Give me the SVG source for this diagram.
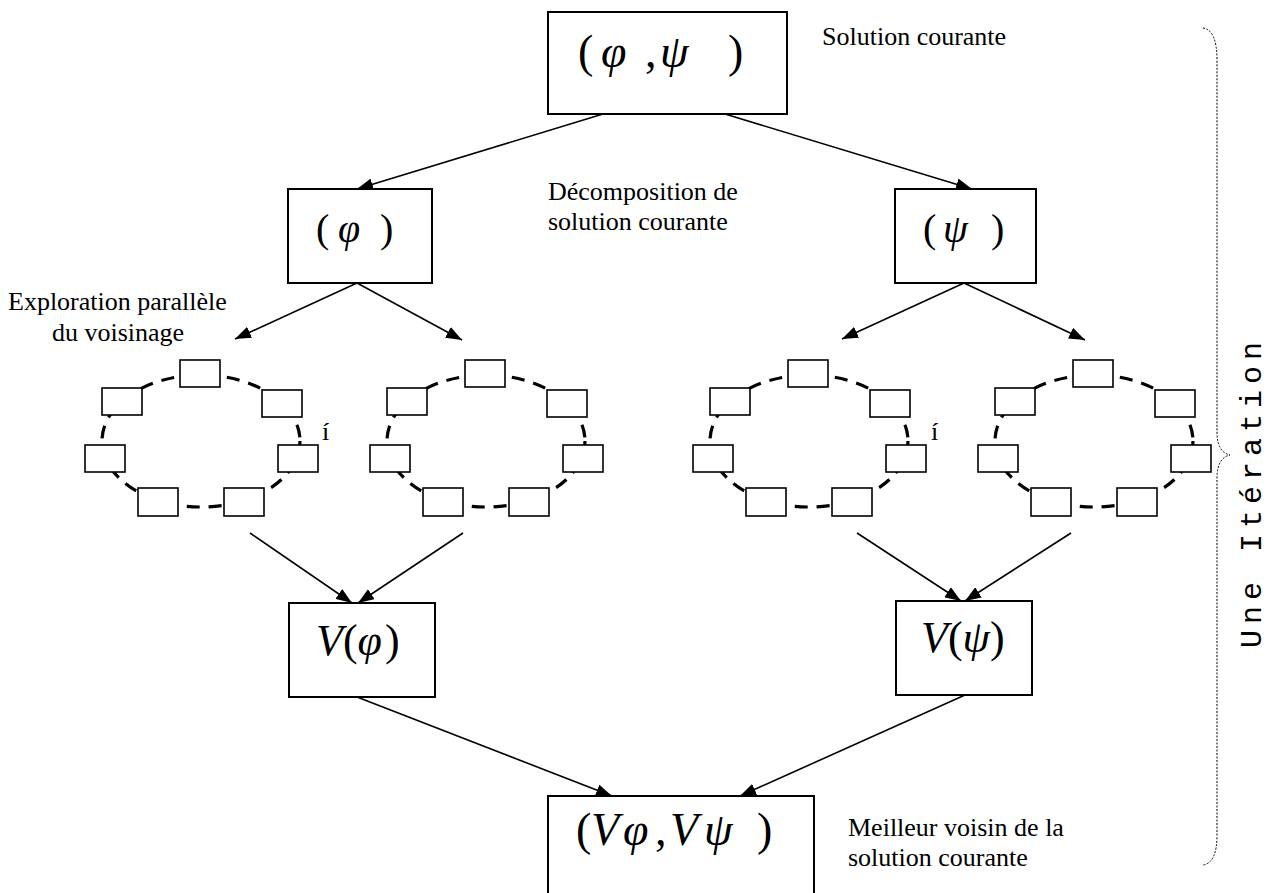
<svg xmlns="http://www.w3.org/2000/svg" width="1268" height="893" viewBox="0 0 1268 893">
  <style>
    .box { fill: #fff; stroke: #000; stroke-width: 2; }
    .cell { fill: #fff; stroke: #000; stroke-width: 1.6; }
    .ring { fill: none; stroke: #000; stroke-width: 3.2; stroke-dasharray: 13 9; }
    .edge { fill: none; stroke: #000; stroke-width: 1.6; marker-end: url(#ah); }
    .lbl { font-family: "Liberation Serif", "Times New Roman", serif; font-size: 26px; fill: #000; }
    .math { font-family: "Liberation Serif", "Times New Roman", serif; fill: #000; }
    .it { font-style: italic; }
    .side { font-family: "Courier New", "Liberation Mono", monospace; font-size: 30px; letter-spacing: 6px; fill: #000; }
    .brace { fill: none; stroke: #000; stroke-width: 1; stroke-dasharray: 2 1.5; }
  </style>
  <defs>
    <marker id="ah" viewBox="0 0 16 12" refX="16" refY="6" markerWidth="16" markerHeight="12" orient="auto" markerUnits="userSpaceOnUse">
      <path d="M0,0 L16,6 L0,12 z" fill="#000"/>
    </marker>
    <!-- one neighbourhood ring: dashed ellipse with seven candidate cells -->
    <g id="ring">
      <ellipse class="ring" cx="201" cy="441" rx="99" ry="66"/>
      <rect class="cell" x="180" y="360" width="40" height="27"/>
      <rect class="cell" x="102" y="388" width="40" height="27"/>
      <rect class="cell" x="262" y="390" width="40" height="27"/>
      <rect class="cell" x="85" y="445" width="40" height="27"/>
      <rect class="cell" x="278" y="445" width="40" height="27"/>
      <rect class="cell" x="138" y="488" width="40" height="28"/>
      <rect class="cell" x="224" y="488" width="40" height="28"/>
    </g>
  </defs>

  <!-- connectors -->
  <g id="connectors">
    <line class="edge" x1="603" y1="114" x2="357" y2="189"/>
    <line class="edge" x1="725" y1="114" x2="972" y2="189"/>
    <line class="edge" x1="357" y1="283" x2="235" y2="339"/>
    <line class="edge" x1="357" y1="283" x2="462" y2="340"/>
    <line class="edge" x1="964" y1="283" x2="842" y2="339"/>
    <line class="edge" x1="964" y1="283" x2="1085" y2="340"/>
    <line class="edge" x1="250" y1="533" x2="352" y2="603"/>
    <line class="edge" x1="463" y1="533" x2="358" y2="603"/>
    <line class="edge" x1="857" y1="533" x2="961" y2="601"/>
    <line class="edge" x1="1071" y1="533" x2="965" y2="601"/>
    <line class="edge" x1="357" y1="697" x2="612" y2="796"/>
    <line class="edge" x1="965" y1="695" x2="740" y2="796"/>
  </g>

  <!-- current solution -->
  <g id="node-current">
    <rect class="box" x="548" y="12" width="239" height="102"/>
    <text class="math" font-size="46" y="67"><tspan x="578">(</tspan><tspan class="it" x="601">φ</tspan><tspan x="645">,</tspan><tspan class="it" x="660">ψ</tspan><tspan x="728">)</tspan></text>
  </g>

  <!-- decomposed parts -->
  <g id="node-phi">
    <rect class="box" x="288" y="189" width="144" height="94"/>
    <text class="math" font-size="40" y="242"><tspan x="316">(</tspan><tspan class="it" x="338">φ</tspan><tspan x="380">)</tspan></text>
  </g>
  <g id="node-psi">
    <rect class="box" x="895" y="189" width="141" height="94"/>
    <text class="math" font-size="40" y="242"><tspan x="923">(</tspan><tspan class="it" x="943">ψ</tspan><tspan x="991">)</tspan></text>
  </g>

  <!-- parallel neighbourhood exploration -->
  <g id="ring-phi-1"><use href="#ring"/></g>
  <g id="ring-phi-2"><use href="#ring" x="285"/></g>
  <g id="ring-psi-1"><use href="#ring" x="608"/></g>
  <g id="ring-psi-2"><use href="#ring" x="893"/></g>
  <text class="lbl" x="322" y="440" font-size="24">í</text>
  <text class="lbl" x="931" y="440" font-size="24">í</text>

  <!-- best neighbours -->
  <g id="node-vphi">
    <rect class="box" x="289" y="603" width="146" height="94"/>
    <text class="math" font-size="44" x="316" y="655"><tspan class="it">V</tspan>(<tspan class="it">φ</tspan><tspan dx="3">)</tspan></text>
  </g>
  <g id="node-vpsi">
    <rect class="box" x="896" y="601" width="136" height="94"/>
    <text class="math" font-size="44" x="921" y="652"><tspan class="it">V</tspan>(<tspan class="it">ψ</tspan>)</text>
  </g>

  <!-- best neighbour of the current solution -->
  <g id="node-best">
    <rect class="box" x="548" y="796" width="266" height="110"/>
    <text class="math" font-size="46" y="845"><tspan x="576">(</tspan><tspan class="it" x="591">V</tspan><tspan class="it" x="623">φ</tspan><tspan x="655">,</tspan><tspan class="it" x="670">V</tspan><tspan class="it" x="704">ψ</tspan><tspan x="757">)</tspan></text>
  </g>

  <!-- annotations -->
  <text class="lbl" x="822" y="45">Solution courante</text>
  <text class="lbl" x="548" y="200">Décomposition de</text>
  <text class="lbl" x="548" y="230">solution courante</text>
  <text class="lbl" x="8" y="310">Exploration parallèle</text>
  <text class="lbl" x="52" y="341">du voisinage</text>
  <text class="lbl" x="848" y="836">Meilleur voisin de la</text>
  <text class="lbl" x="848" y="866">solution courante</text>

  <!-- iteration brace -->
  <path class="brace" d="M1203,28 Q1217,30 1217,60 L1217,432 Q1217,452 1230,455 Q1217,458 1217,478 L1217,835 Q1217,863 1203,865"/>
  <text class="side" x="1261" y="648" transform="rotate(-90 1261 648)">Une Itération</text>
</svg>
